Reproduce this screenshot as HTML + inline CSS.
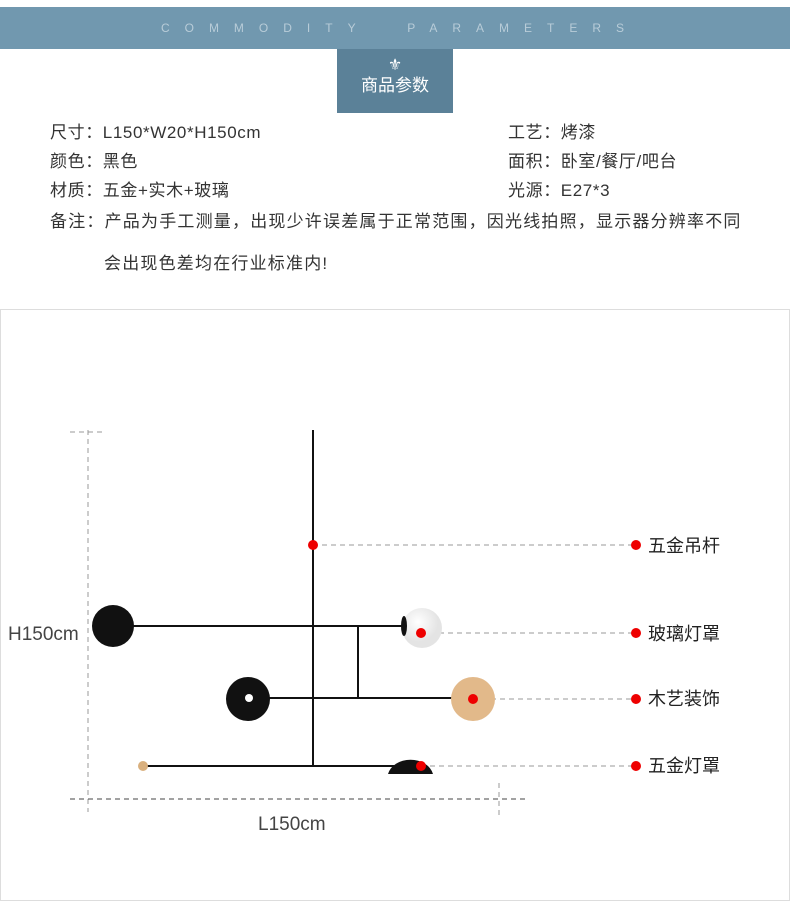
<!DOCTYPE html>
<html><head><meta charset="utf-8"><style>
body{margin:0;width:790px;height:890px;background:#fff;position:relative;overflow:hidden;font-family:"Liberation Sans","Noto Sans CJK SC",sans-serif;color:#333}
.t{position:absolute;font-size:17px;line-height:20px;white-space:nowrap;letter-spacing:0.6px}
.l{position:absolute;font-size:18px;line-height:20px;white-space:nowrap;color:#222}
</style></head><body>
<div style="position:absolute;left:0;top:7px;width:790px;height:42px;background:#7198af"></div>
<div style="position:absolute;left:0;top:7px;width:790px;height:42px;line-height:42px;text-align:center;color:#b8ccd8;font-size:12px;letter-spacing:15px;padding-left:10px;box-sizing:border-box">COMMODITY&nbsp;&nbsp;PARAMETERS</div>
<div style="position:absolute;left:337px;top:49px;width:116px;height:64px;background:#5b8198;color:#fff;text-align:center">
<div style="font-size:16px;line-height:16px;margin-top:9px">⚜</div>
<div style="font-size:17px;line-height:24px">商品参数</div></div>
<div class="t" style="left:50px;top:123px">尺寸：L150*W20*H150cm</div>
<div class="t" style="left:50px;top:152px">颜色：黑色</div>
<div class="t" style="left:50px;top:181px">材质：五金+实木+玻璃</div>
<div class="t" style="left:50px;top:212px;letter-spacing:1.2px">备注：产品为手工测量，出现少许误差属于正常范围，因光线拍照，显示器分辨率不同</div>
<div class="t" style="left:104px;top:254px;letter-spacing:1.2px">会出现色差均在行业标准内!</div>
<div class="t" style="left:508px;top:123px">工艺：烤漆</div>
<div class="t" style="left:508px;top:152px">面积：卧室/餐厅/吧台</div>
<div class="t" style="left:508px;top:181px">光源：E27*3</div>
<div style="position:absolute;left:0;top:309px;width:788px;height:590px;border:1px solid #ddd"></div>
<svg width="790" height="890" style="position:absolute;left:0;top:0">
<defs><radialGradient id="w" cx="40%" cy="35%"><stop offset="0" stop-color="#fff"/><stop offset="1" stop-color="#e4e4e4"/></radialGradient></defs>
<g stroke="#999" stroke-dasharray="5,4" stroke-width="1" fill="none">
<line x1="88" y1="430" x2="88" y2="812"/><line x1="70" y1="432" x2="104" y2="432"/>
<line x1="70" y1="799" x2="525" y2="799" stroke="#444"/><line x1="499" y1="783" x2="499" y2="815"/>
<line x1="313" y1="545" x2="636" y2="545"/><line x1="421" y1="633" x2="636" y2="633"/>
<line x1="473" y1="699" x2="636" y2="699"/><line x1="421" y1="766" x2="636" y2="766"/>
</g>
<g stroke="#111" stroke-width="2">
<line x1="313" y1="430" x2="313" y2="767"/>
<line x1="133" y1="626" x2="404" y2="626"/>
<line x1="358" y1="626" x2="358" y2="698"/>
<line x1="258" y1="698" x2="452" y2="698"/>
<line x1="146" y1="766" x2="400" y2="766"/>
</g>
<circle cx="113" cy="626" r="21" fill="#111"/>
<circle cx="422" cy="628" r="20" fill="url(#w)"/>
<ellipse cx="404" cy="626" rx="3" ry="10" fill="#111"/>
<circle cx="248" cy="699" r="22" fill="#111"/><circle cx="249" cy="698" r="4" fill="#fff"/>
<circle cx="473" cy="699" r="22" fill="#e2b98a"/>
<circle cx="143" cy="766" r="5" fill="#d9b07e"/>
<path d="M388 774 A23 18 0 0 1 433 774 Z" fill="#111"/>
<g fill="#e00">
<circle cx="313" cy="545" r="5"/><circle cx="421" cy="633" r="5"/><circle cx="473" cy="699" r="5"/><circle cx="421" cy="766" r="5"/>
<circle cx="636" cy="545" r="5"/><circle cx="636" cy="633" r="5"/><circle cx="636" cy="699" r="5"/><circle cx="636" cy="766" r="5"/>
</g>
</svg>
<div class="l" style="left:648px;top:536px">五金吊杆</div>
<div class="l" style="left:648px;top:624px">玻璃灯罩</div>
<div class="l" style="left:648px;top:689px">木艺装饰</div>
<div class="l" style="left:648px;top:756px">五金灯罩</div>
<div class="l" style="left:8px;top:625px;font-size:19px;color:#444">H150cm</div>
<div class="l" style="left:258px;top:815px;font-size:19px;color:#444">L150cm</div>
</body></html>
